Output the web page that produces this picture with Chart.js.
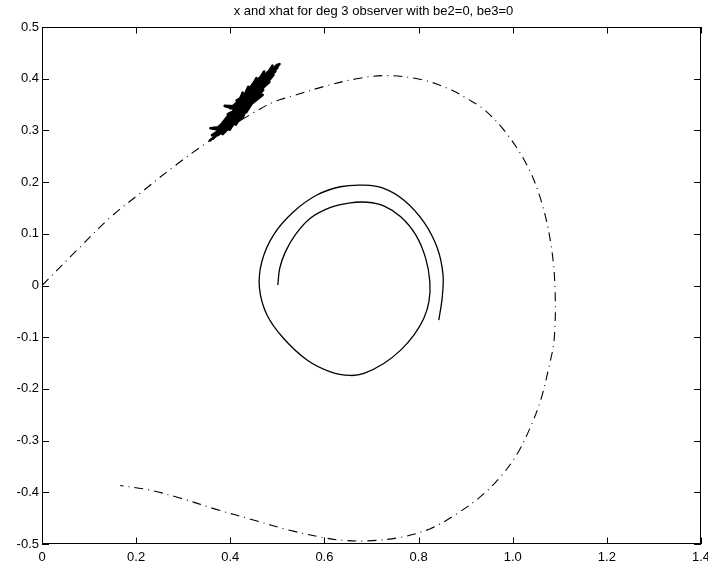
<!DOCTYPE html>
<html>
<head>
<meta charset="utf-8">
<script src="https://cdn.jsdelivr.net/npm/chart.js@4.4.1/dist/chart.umd.min.js"></script>
<style>
  html, body { margin:0; padding:0; background:#fff; }
  #c { display:block; }
</style>
</head>
<body>
<canvas id="c" width="708" height="569"></canvas>
<script>
// x trajectory (dash-dot)
const xTrajX = [0.000,0.075,0.143,0.212,0.280,0.348,0.400,0.453,0.492,0.538,0.599,0.675,0.736,0.812,0.870,0.904,0.941,0.987,1.032,1.062,1.082,1.090,1.088,1.077,1.060,1.038,1.010,0.974,0.932,0.882,0.826,0.762,0.691,0.641,0.600,0.524,0.447,0.370,0.293,0.226,0.166];
const xTrajY = [0.000,0.069,0.130,0.181,0.230,0.275,0.307,0.336,0.355,0.368,0.385,0.401,0.406,0.397,0.378,0.361,0.339,0.294,0.230,0.159,0.075,-0.009,-0.105,-0.157,-0.220,-0.273,-0.325,-0.370,-0.408,-0.441,-0.470,-0.487,-0.494,-0.493,-0.488,-0.473,-0.453,-0.433,-0.411,-0.395,-0.387];

// spiral (solid)
const spiralX = [0.501,0.505,0.517,0.538,0.570,0.613,0.655,0.691,0.726,0.762,0.794,0.815,0.824,0.822,0.811,0.790,0.762,0.726,0.684,0.655,0.613,0.563,0.513,0.478,0.462,0.467,0.492,0.535,0.584,0.634,0.684,0.726,0.769,0.811,0.840,0.852,0.850,0.843];
const spiralY = [0.001,0.033,0.065,0.098,0.130,0.151,0.160,0.161,0.154,0.133,0.098,0.053,0.007,-0.031,-0.064,-0.096,-0.125,-0.151,-0.170,-0.174,-0.167,-0.144,-0.102,-0.057,-0.005,0.046,0.098,0.143,0.175,0.191,0.194,0.188,0.165,0.123,0.072,0.020,-0.025,-0.067];

// xhat chattering (solid)
const xhatX = [0.3555,0.4056,0.3613,0.4235,0.3732,0.4167,0.3838,0.4379,0.3772,0.4216,0.3986,0.4282,0.3935,0.4510,0.3946,0.4687,0.4112,0.4617,0.4264,0.4381,
  0.4183,0.4828,0.4134,0.4699,0.4393,0.4794,0.4328,0.4556,0.4118,0.4492,0.4898,0.4383,0.5002,0.4563,0.5045,0.4516,0.4916,0.4596,0.4896,0.4636,
  0.4719,0.4402,0.4063,0.3881,0.4077,0.4167,0.3863,0.4257,0.3715,0.3991,0.3730,0.3578,0.3743,0.3862,0.3629,0.3995,0.4390,0.4725,0.4194,0.4726,
  0.4130,0.4693,0.4003,0.4830,0.3934,0.4514,0.4337,0.4899,0.4252,0.4720,0.4247,0.4598,0.3953,0.4264,0.4116,0.4682,0.3805,0.4317,0.3672,0.4051,
  0.4384,0.5000,0.4517,0.4959,0.4403,0.3994];
const xhatY = [0.2797,0.3165,0.2907,0.3224,0.2910,0.3469,0.2927,0.3419,0.3090,0.3347,0.3013,0.3635,0.3162,0.3572,0.3312,0.3687,0.3275,0.4013,0.3252,0.3843,
  0.3428,0.3990,0.3577,0.3783,0.3460,0.4127,0.3623,0.4011,0.3111,0.3640,0.4198,0.3789,0.4214,0.3793,0.4283,0.3887,0.4075,0.3712,0.4252,0.3890,
  0.4139,0.3665,0.3425,0.3474,0.3466,0.3496,0.3064,0.3471,0.2978,0.3327,0.3020,0.3043,0.3062,0.3119,0.2839,0.3163,0.3569,0.3920,0.3578,0.3865,
  0.3207,0.4001,0.3424,0.3936,0.3216,0.3942,0.3350,0.4143,0.3634,0.4083,0.3320,0.3657,0.3094,0.3730,0.3166,0.3850,0.3008,0.3472,0.2909,0.3328,
  0.3733,0.4269,0.3833,0.4145,0.3611,0.3218];

const titleText = 'x and xhat for deg 3 observer with be2=0, be3=0';
const FONT = 'Liberation Sans, Arial, Helvetica, sans-serif';

const pts = (xs, ys) => xs.map((x,i)=>({x, y:ys[i]}));

// frame, inward ticks and title
const framePlugin = {
  id:'frame',
  afterDraw(chart){
    const {ctx, chartArea:a, scales} = chart;
    ctx.save();
    ctx.strokeStyle = '#000';
    ctx.lineWidth = 1;
    ctx.strokeRect(a.left+0.5, a.top+0.5, a.right-a.left-1, a.bottom-a.top-1);
    ctx.beginPath();
    scales.x.ticks.forEach(t=>{
      const px = Math.round(scales.x.getPixelForValue(t.value))+0.5;
      ctx.moveTo(px, a.bottom); ctx.lineTo(px, a.bottom-6.5);
      ctx.moveTo(px, a.top); ctx.lineTo(px, a.top+6.5);
    });
    scales.y.ticks.forEach(t=>{
      const py = Math.round(scales.y.getPixelForValue(t.value))+0.5;
      ctx.moveTo(a.left, py); ctx.lineTo(a.left+7, py);
      ctx.moveTo(a.right, py); ctx.lineTo(a.right-7, py);
    });
    ctx.stroke();
    ctx.fillStyle = '#000';
    ctx.font = '13px ' + FONT;
    ctx.textAlign = 'center';
    ctx.textBaseline = 'alphabetic';
    ctx.fillText(titleText, (a.left+a.right)/2 + 2, 15);
    ctx.restore();
  }
};

const lineDefaults = {showLine:true, borderColor:'#000', pointRadius:0, fill:false};

new Chart(document.getElementById('c').getContext('2d'), {
  type:'scatter',
  data:{datasets:[
    {...lineDefaults, data:pts(xTrajX, xTrajY), borderWidth:1.1, borderDash:[9,5,1,5], tension:0.35},
    {...lineDefaults, data:pts(spiralX, spiralY), borderWidth:1.3, tension:0.35},
    {...lineDefaults, data:pts(xhatX, xhatY), borderWidth:2.6, tension:0, borderJoinStyle:'round'}
  ]},
  options:{
    responsive:false, animation:false,
    layout:{padding:{top:27, right:0, left:0, bottom:0}},
    plugins:{legend:{display:false}, tooltip:{enabled:false}, title:{display:false}},
    scales:{
      x:{type:'linear', min:0, max:1.4,
         ticks:{stepSize:0.2, color:'#000', font:{family:FONT, size:13}, padding:6, maxRotation:0, autoSkip:false},
         grid:{display:false, drawTicks:false}, border:{display:false},
         afterFit(s){ s.height = 25; s.paddingLeft = 0; s.paddingRight = 7; }},
      y:{type:'linear', min:-0.5, max:0.5,
         ticks:{stepSize:0.1, color:'#000', font:{family:FONT, size:13}, padding:3, autoSkip:false},
         grid:{display:false, drawTicks:false}, border:{display:false},
         afterFit(s){ s.width = 42; }}
    }
  },
  plugins:[framePlugin]
});
</script>
</body>
</html>
